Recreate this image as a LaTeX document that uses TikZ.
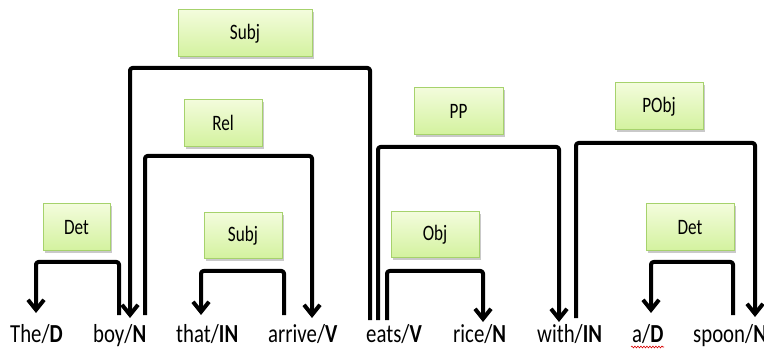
\documentclass[tikz,border=0pt]{standalone}
\usepackage{fontspec}
\setmainfont{Carlito}
\newfontfamily\wordfont[FakeStretch=0.8]{Carlito}
\newfontfamily\labfont[FakeStretch=0.78]{Carlito}
\usetikzlibrary{arrows.meta,shadows,decorations.pathmorphing}
\definecolor{boxtop}{HTML}{F3FCDC}
\definecolor{boxbot}{HTML}{D3F29E}
\definecolor{boxedge}{HTML}{A6D26C}
\begin{document}
\begin{tikzpicture}[x=1pt,y=-1pt,
  lab/.style={draw=boxedge, line width=1pt, top color=boxtop, bottom color=boxbot,
    minimum height=47pt, inner sep=0pt, font=\labfont\fontsize{22}{25}\selectfont,
    drop shadow={shadow xshift=1.5pt, shadow yshift=-2.5pt, opacity=0.35, fill=black!60}},
  word/.style={anchor=base west, inner sep=0pt, font=\wordfont\fontsize{26}{30}\selectfont},
  dep/.style={line width=4pt, rounded corners=2.5pt, line join=round},
  arr/.style={dep, -{Straight Barb[length=10pt,width=16pt]}}]
\useasboundingbox (0,0) rectangle (764,350);
\fill[white] (0,0) rectangle (764,350);

% label boxes
\node[lab, minimum width=134pt] (subjtop) at (245,33.5) {Subj};
\node[lab, minimum width=78pt] (rel) at (223,123) {Rel};
\node[lab, minimum width=89pt] (pp) at (458.5,111) {PP};
\node[lab, minimum width=88pt] (pobj) at (659,106.5) {PObj};
\node[lab, minimum width=67pt] (detl) at (76.5,227.5) {Det};
\node[lab, minimum width=78pt, minimum height=46pt] (subjs) at (243,236) {Subj};
\node[lab, minimum width=88pt, minimum height=46pt] (obj) at (435,235) {Obj};
\node[lab, minimum width=88pt] (detr) at (690,227.5) {Det};

% words
\node[word] (the) at (10,342) {The/\textbf{D}};
\node[word] (boy) at (93,342) {boy/\textbf{N}};
\node[word] (that) at (176,342) {that/\textbf{IN}};
\node[word] (arrive) at (268,342) {arrive/\textbf{V}};
\node[word] (eats) at (366,342) {eats/\textbf{V}};
\node[word] (rice) at (453,342) {rice/\textbf{N}};
\node[word] (with) at (537,342) {with/\textbf{IN}};
\node[word] (a) at (632,342) {a/\textbf{D}};
\node[word] (spoon) at (693,342) {spoon/\textbf{N}};

% red spelling squiggle under a/D
\draw[red!85!black, line width=0.6pt, decorate,
  decoration={snake, amplitude=0.9pt, segment length=3pt}] (631,347) -- (664,347);

% attachment points
\coordinate (theT) at (36,313);
\coordinate (boyL) at (119,315);
\coordinate (boyM) at (130,318);
\coordinate (boyR) at (145,315);
\coordinate (thatT) at (201,315);
\coordinate (arriveL) at (284,315);
\coordinate (arriveR) at (312,318);
\coordinate (eatsA) at (370,320);
\coordinate (eatsB) at (378,320);
\coordinate (eatsC) at (387,320);
\coordinate (riceT) at (483,322);
\coordinate (withL) at (559,322);
\coordinate (withR) at (576,318);
\coordinate (aT) at (651,313);
\coordinate (spoonL) at (733,315);
\coordinate (spoonR) at (755,317);

% connectors
\draw[arr] (boyL) -- (boyL |- 0,262) -- (theT |- 0,262) -- (theT);
\draw[arr] (eatsA) -- (eatsA |- 0,68) -- (boyM |- 0,68) -- (boyM);
\draw[arr] (boyR) -- (boyR |- 0,156) -- (arriveR |- 0,156) -- (arriveR);
\draw[arr] (arriveL) -- (arriveL |- 0,271) -- (thatT |- 0,271) -- (thatT);
\draw[arr] (eatsB) -- (eatsB |- 0,147) -- (withL |- 0,147) -- (withL);
\draw[arr] (eatsC) -- (eatsC |- 0,271) -- (riceT |- 0,271) -- (riceT);
\draw[arr] (withR) -- (withR |- 0,143) -- (spoonR |- 0,143) -- (spoonR);
\draw[arr] (spoonL) -- (spoonL |- 0,262) -- (aT |- 0,262) -- (aT);
\end{tikzpicture}
\end{document}
